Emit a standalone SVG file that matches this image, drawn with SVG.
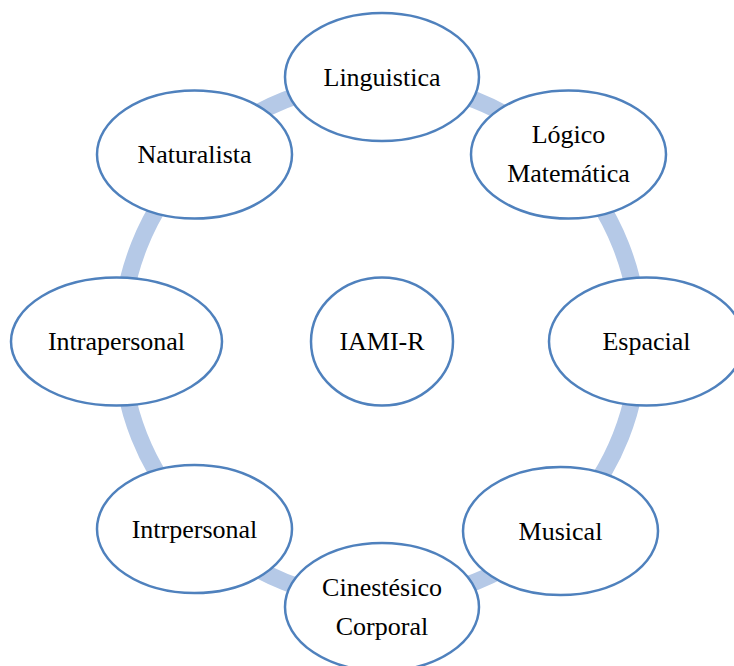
<svg xmlns="http://www.w3.org/2000/svg" width="734" height="666" viewBox="0 0 734 666">
<style>
.n{fill:#fff;stroke:#4F81BD;stroke-width:2.5}
.t{font-family:"Liberation Serif","Times New Roman",serif;font-size:26px;fill:#000;text-anchor:middle}
.ring{fill:none;stroke:#B5C9E7;stroke-width:17}
</style>
<rect width="734" height="666" fill="#fff"/>
<g id="connectors">
<circle class="ring" cx="380" cy="341" r="259"/>
</g>
<g id="linguistica"><ellipse class="n" cx="382" cy="77" rx="97" ry="64"/><text class="t" x="382" y="85.5">Linguistica</text></g>
<g id="logico"><ellipse class="n" cx="568.5" cy="154.5" rx="97.5" ry="64"/><text class="t" x="568.5" y="143">Lógico</text><text class="t" x="568.5" y="182">Matemática</text></g>
<g id="espacial"><ellipse class="n" cx="646.5" cy="341.5" rx="97.5" ry="64"/><text class="t" x="646.5" y="350">Espacial</text></g>
<g id="musical"><ellipse class="n" cx="560.5" cy="531" rx="97.5" ry="64"/><text class="t" x="560.5" y="539.5">Musical</text></g>
<g id="cinestesico"><ellipse class="n" cx="382" cy="607" rx="97" ry="64"/><text class="t" x="382" y="596">Cinestésico</text><text class="t" x="382" y="635">Corporal</text></g>
<g id="intrpersonal"><ellipse class="n" cx="194.5" cy="529" rx="97.5" ry="64"/><text class="t" x="194.5" y="537.5">Intrpersonal</text></g>
<g id="intrapersonal"><ellipse class="n" cx="116.5" cy="341.5" rx="105.5" ry="64"/><text class="t" x="116.5" y="350">Intrapersonal</text></g>
<g id="naturalista"><ellipse class="n" cx="194.5" cy="154.5" rx="97.5" ry="64"/><text class="t" x="194.5" y="163">Naturalista</text></g>
<g id="iami"><ellipse class="n" cx="382" cy="341.5" rx="71" ry="64"/><text class="t" x="382" y="350">IAMI-R</text></g>
</svg>
